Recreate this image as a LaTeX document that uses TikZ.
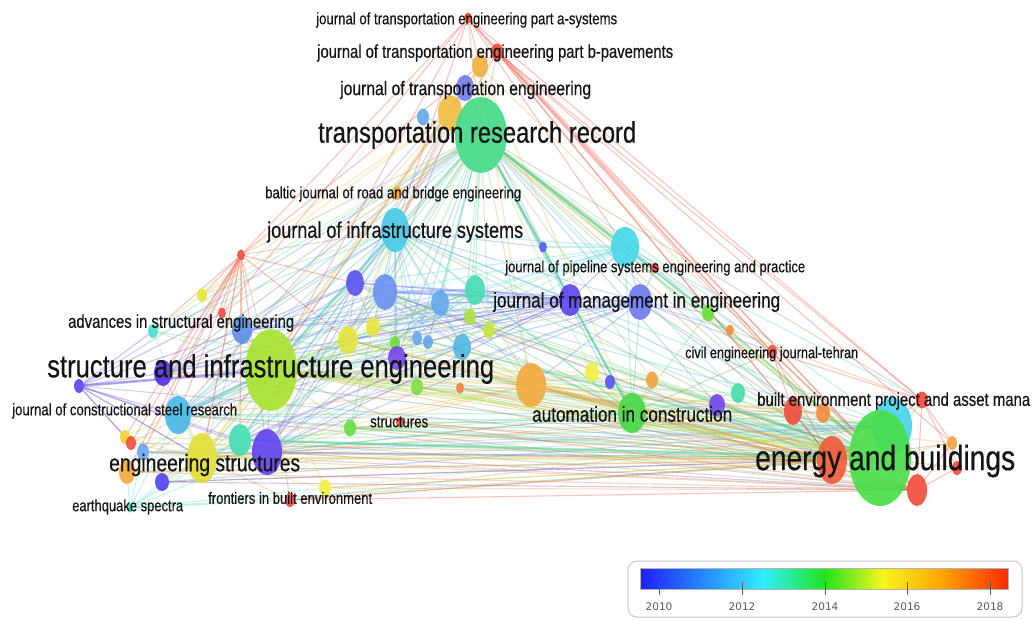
\documentclass[tikz,border=0pt]{standalone}
\usepackage{fontspec}
\usepackage{graphicx}
\usetikzlibrary{shapes.geometric}
\newfontfamily\labfont[FakeStretch=0.8,FakeBold=0.4]{Liberation Sans}
\newfontfamily\tickfont{DejaVu Sans}
\definecolor{labtext}{HTML}{141414}
\definecolor{tickgray}{HTML}{5A5A5A}
\definecolor{boxgray}{HTML}{C8C8C8}
\definecolor{cb0}{HTML}{1E1EFF}
\definecolor{cb1}{HTML}{30EEFF}
\definecolor{cb2}{HTML}{22E41C}
\definecolor{cb3}{HTML}{F6F61E}
\definecolor{cb4}{HTML}{FFA000}
\definecolor{cb5}{HTML}{FF2A00}
\pgfdeclarelayer{edges}
\pgfsetlayers{edges,main}
\begin{document}
\begin{tikzpicture}[x=1pt,y=-1pt,
  bub/.style={ellipse, inner sep=0pt, draw=none, fill opacity=0.9},
  edge/.style={line width=1.1pt, draw opacity=0.32},
  heavy/.style={line width=2.6pt, draw opacity=0.42},
  lab/.style={anchor=west, inner sep=0pt, text=labtext, font=\labfont},
  tick/.style={draw=tickgray, line width=1pt},
  ticklab/.style={inner sep=0pt, text=tickgray, font=\tickfont\fontsize{10.5}{12}\selectfont},
]
\useasboundingbox (0,0) rectangle (1032,619);

% journals: name / x / y / width / height / colour (publication year)
\foreach \n/\x/\y/\w/\h/\c in {
  t6/450/113/24/36/F2BE40,
  trr/481/135/52/76/40DA86,
  cy3/892/426/40/56/44D4EA,
  eb/880/458/62/96/48DE48,
  bll/242/330/20/28/5A90E6,
  sie/271/370/52/82/A8E22E,
  jis/395/230/28/44/44C8E6,
  t1/468/18/8/11/F24B3A,
  t2/497/52/12/17/F04A3A,
  t3/480/66/16/23/F2AE3C,
  t4/465/88/18/26/6C7CF0,
  t5/423/117/12/17/64A6EE,
  b1/397/193/10/14/F2A93B,
  m1/543/247/8/11/5A5CF0,
  cy2/625/247/28/40/44D8E8,
  rp/655/268/8/11/F24B3A,
  jm1/570/300/22/32/5A44F0,
  jm2/640/302/24/36/6A78F0,
  g1/708/313/12/17/6ADC3A,
  o1/730/330/8/11/F28C3C,
  civ/772/352/10/14/F2503A,
  p1/355/283/18/26/5A50F0,
  p2/385/292/24/36/6A90F0,
  p3/440/303/18/26/64A8EE,
  p4/475/290/20/30/44DCB4,
  y1/470/317/12/17/B0E040,
  y2/489/330/12/17/C6E440,
  y3/373/327/14/20/E6E63A,
  y4/348/340/20/28/E4E43A,
  lb1/417/338/10/14/64A6EE,
  lb2/428/342/10/14/64A6EE,
  g2/395/343/10/14/6ADC3A,
  pu1/397/358/18/24/7046EE,
  lb3/462/347/18/26/50B8E0,
  g3/417/387/12/17/80E040,
  o2/460/388/8/11/F2803C,
  ob/531/385/30/44/F2A93B,
  y5/592/372/14/20/F0F040,
  bl5/610/382/10/14/5A50F0,
  o3/652/380/12/17/F2A040,
  aic/632/413/28/40/46D846,
  pu2/717/405/16/22/7046EE,
  te2/738/393/14/20/44DCA8,
  r1/793/411/18/28/F24B3A,
  o4/823/413/14/20/F28C3C,
  r2/922/400/12/17/F24B3A,
  r3/832/460/30/48/F25A3A,
  r4/917/490/20/32/F24B3A,
  o5/952/443/10/14/F2A040,
  r5/957/468/10/14/F24B3A,
  rl/241/255/8/11/F24B3A,
  yl/202/295/10/14/E6E63A,
  rl2/222/313/8/11/F24B3A,
  tl/153/331/10/14/44E0CC,
  pl/163/373/18/26/5030E6,
  pl2/79/386/10/14/6040F0,
  cl/178/415/26/38/44B8E6,
  yl2/125/437/10/14/F0D030,
  rl3/131/443/10/14/F24B3A,
  lbl/143/452/12/17/64A6EE,
  ol/127/472/16/24/F2A93B,
  pl3/162/482/14/18/5040F0,
  es/202/458/30/50/E0E034,
  tel/240/440/22/32/44DCB4,
  pbig/267/452/30/46/6040F0,
  tl2/130/508/6/9/44E0CC,
  rf/290/500/10/14/F24B3A,
  yf/325/488/12/17/F0F040,
  gs/350/428/12/17/60E040,
  rs/400/422/8/11/F24B3A}{
  \xglobal\definecolor{c-\n}{HTML}{\c}
  \node[bub, minimum width=\w pt, minimum height=\h pt, fill=c-\n] (\n) at (\x,\y) {};
}

% co-citation links, under the journals; a link takes the blend of its two journals' colours
\begin{pgfonlayer}{edges}
\fill[white] (0,0) rectangle (1032,619);
\foreach \b in {t1,t2,t3,t4,t5,b1,jis,m1,cy2,rp,jm1,jm2,g1,o1,civ,p1,p2,p3,p4,y1,y2,y3,y4,lb3,pu1,ob,y5,aic,pu2,te2,r1,o4,r2,cy3,eb,r3,rl,yl,sie,bll,pl,cl,es,tel,pbig,gs,g3,lb1,lb2,bl5,o3,tl,rl2,pl2}
  \draw[edge, draw=c-\b!50!c-trr] (trr) -- (\b);
\foreach \b in {rl,sie,jis,eb,r3,r2,cy2,t3,rl2,civ}
  \draw[edge, draw=c-t1] (t1) -- (\b);
\foreach \b in {r2,eb,civ,rl,jis,r3,o4,o5}
  \draw[edge, draw=c-t2] (t2) -- (\b);
\foreach \b in {sie,eb,jis,ob,aic,es}
  \draw[edge, draw=c-t3] (t3) -- (\b);
\foreach \b in {jis,sie,p1,p2,jm1,cl}
  \draw[edge, draw=c-t4] (t4) -- (\b);
\foreach \b in {sie,es,eb,jis,rl,y4,tl,cl}
  \draw[edge, draw=c-t6] (t6) -- (\b);
\foreach \b in {p1,p2,p3,p4,y3,y4,bll,sie,es,pbig,tel,cl,pl,rl,yl,cy2,jm1,jm2,aic,eb,ob,lb3,pu1,g3,m1,b1,tl,gs,r3,cy3,lb1,lb2,g2}
  \draw[edge, draw=c-\b!50!c-jis] (jis) -- (\b);
\foreach \b in {pl,pl2,cl,tl,bll,rl,rl2,yl,es,tel,pbig,ol,pl3,lbl,rl3,yl2,gs,rs,yf,rf,p1,p2,p3,p4,y3,y4,pu1,ob,aic,jm1,jm2,cy2,o2,g3,lb3,y5,r1,r3,cy3,g2,lb1,lb2,y1,y2,r4,o5,bl5,o3,te2}
  \draw[edge, draw=c-\b!50!c-sie] (sie) -- (\b);
\foreach \b in {pl,pl2,cl,tl,ol,pl3,lbl,rl3,yl2,tl2,rf,yf,tel,pbig,gs,aic,ob,jm2,p2,rl,bll,r3,cy3,r4,y4,r1,o4,jm1,p4}
  \draw[edge, draw=c-\b!50!c-es] (es) -- (\b);
\foreach \b in {pbig,tel,cl,pl,ol,lbl,gs,g3,aic,y5,bl5,o3,pu2,te2,r1,o4,r2,r4,o5,r5,civ,o1,g1,jm1,jm2,cy2,rp,p2,p4,lb3,y1,y2,y4,yf,rf,rs,o2,p1,p3,pu1,bll,yl2,rl3,pl3,tl2,y3,lb1,lb2,g2,tl,pl2}
  \draw[edge, draw=c-\b!50!c-eb] (eb) -- (\b);
\foreach \h in {r3,r4,cy3}
  \foreach \b in {pbig,tel,cl,ol,gs,yf,rf,g3,o2,lbl,pl3,ob,aic,y4,p2,rs}
    \draw[edge, draw=c-\b!50!c-\h] (\h) -- (\b);
\foreach \b in {yl,rl2,tl,bll,pl,cl,tel,p1,y4,pbig,ol,yl2,rl3,lbl,es}
  \draw[edge, draw=c-rl] (rl) -- (\b);
\foreach \b in {tl,pl,cl,bll,rl2,yl2,rl3,tel,pbig,es}
  \draw[edge, draw=c-pl2] (pl2) -- (\b);
\foreach \b in {ol,pl3,cl,pbig,tel,rf,lbl,yf}
  \draw[edge, draw=c-tl2] (tl2) -- (\b);
\foreach \b in {jm1,jm2,cy2,ob,p2,p4,y4,pu2,te2,civ,g1,r1,pbig,tel,cl,gs,p1,p3,y3,y5,o3}
  \draw[edge, draw=c-\b!50!c-aic] (aic) -- (\b);
\foreach \b in {cy2,p1,p2,p3,p4,y3,y4,ob,civ,r1,pbig,cl,o1,g1,rp,tel,bll,pl}
  \draw[edge, draw=c-jm2] (jm2) -- (\b);
\foreach \b in {cy2,p1,p3,p4,y3,pbig,cl,tel,pl,bll,y4}
  \draw[edge, draw=c-jm1] (jm1) -- (\b);
\foreach \b in {p1,p2,p3,p4,m1,rp,civ,r2,r1,g1,o1,y1,pbig,cl}
  \draw[edge, draw=c-cy2] (cy2) -- (\b);
\foreach \b in {p2,p4,y3,y4,pbig,cl,tel,pl,r1,o4,y5}
  \draw[edge, draw=c-ob] (ob) -- (\b);
\foreach \h in {p1,p2,p3,p4}
  \foreach \b in {pbig,cl,tel,pl,bll,y4,y3,lb3}
    \draw[edge, draw=c-\h!50!c-\b] (\h) -- (\b);
\foreach \a/\b in {r3/r4,r3/o5,r2/r4,r2/o5,r4/o5,r5/r2,r1/r3,o4/r4,civ/r2,civ/r4,civ/r3,r1/civ,o1/r2,r2/r3,r4/r5,o5/r5,r3/cy3,r1/o4}
  \draw[edge, draw=c-\a] (\a) -- (\b);
% strongest links
\draw[heavy, draw=c-ob] (ob) -- (r3);
\draw[heavy, draw=c-ob] (ob) -- (eb);
\draw[heavy, draw=c-sie] (sie) -- (eb);
\draw[heavy, draw=c-es] (es) -- (eb);
\draw[heavy, draw=c-p2] (p2) -- (p4);
\draw[heavy, draw=c-p2] (p2) -- (jm1);
\draw[heavy, draw=c-pl2] (pl2) -- (sie);
\draw[heavy, draw=c-trr] (trr) -- (aic);
\draw[heavy, draw=c-trr] (trr) -- (cy2);
\draw[heavy, draw=c-jis] (jis) -- (sie);
\draw[heavy, draw=c-tel] (tel) -- (eb);
\draw[heavy, draw=c-cl] (cl) -- (sie);
\end{pgfonlayer}

% journal labels
\node[lab] (l-tra) at (316,20) {\resizebox{301pt}{!}{journal of transportation engineering part a-systems}};
\node[lab] (l-trb) at (317,53) {\resizebox{356pt}{!}{journal of transportation engineering part b-pavements}};
\node[lab] (l-tre) at (340,90) {\resizebox{251pt}{!}{journal of transportation engineering}};
\node[lab] (l-trr) at (318,135) {\resizebox{318pt}{!}{transportation research record}};
\node[lab] (l-bal) at (265,194) {\resizebox{256pt}{!}{baltic journal of road and bridge engineering}};
\node[lab] (l-jis) at (267,232) {\resizebox{256pt}{!}{journal of infrastructure systems}};
\node[lab] (l-pip) at (505,268) {\resizebox{300pt}{!}{journal of pipeline systems engineering and practice}};
\node[lab] (l-jme) at (493,302) {\resizebox{287pt}{!}{journal of management in engineering}};
\node[lab] (l-ase) at (68,323) {\resizebox{226pt}{!}{advances in structural engineering}};
\node[lab] (l-sie) at (47,369) {\resizebox{447pt}{!}{structure and infrastructure engineering}};
\node[lab] (l-civ) at (685,354) {\resizebox{173pt}{!}{civil engineering journal-tehran}};
\node[lab] (l-aic) at (532,414) {\resizebox{200pt}{!}{automation in construction}};
\node[lab] (l-bep) at (757,401) {\resizebox{273pt}{!}{built environment project and asset mana}};
\node[lab] (l-jcs) at (12,411) {\resizebox{225pt}{!}{journal of constructional steel research}};
\node[lab] (l-str) at (370,422) {\resizebox{58pt}{!}{structures}};
\node[lab] (l-es)  at (109,465) {\resizebox{191pt}{!}{engineering structures}};
\node[lab] (l-eb)  at (755,461) {\resizebox{260pt}{!}{energy and buildings}};
\node[lab] (l-eq)  at (72,507) {\resizebox{111pt}{!}{earthquake spectra}};
\node[lab] (l-fbe) at (208,498) {\resizebox{164pt}{!}{frontiers in built environment}};

% colour scale of average publication year
\draw[draw=boxgray, line width=1pt, fill=white, rounded corners=9pt] (628,561) rectangle (1022,617);
\shade[left color=cb0, right color=cb1] (640,568) rectangle (763,589);
\shade[left color=cb1, right color=cb2] (762.5,568) rectangle (825,589);
\shade[left color=cb2, right color=cb3] (824.5,568) rectangle (883,589);
\shade[left color=cb3, right color=cb4] (882.5,568) rectangle (945,589);
\shade[left color=cb4, right color=cb5] (944.5,568) rectangle (1008,589);
\draw[draw=gray!60, line width=0.6pt] (640,568) rectangle (1008,589);
\foreach \tx/\yr in {659/2010,742/2012,825/2014,907/2016,990/2018}{
  \draw[tick] (\tx,582) -- (\tx,595);
  \node[ticklab] (y\yr) at (\tx,607) {\yr};
}
\end{tikzpicture}
\end{document}
